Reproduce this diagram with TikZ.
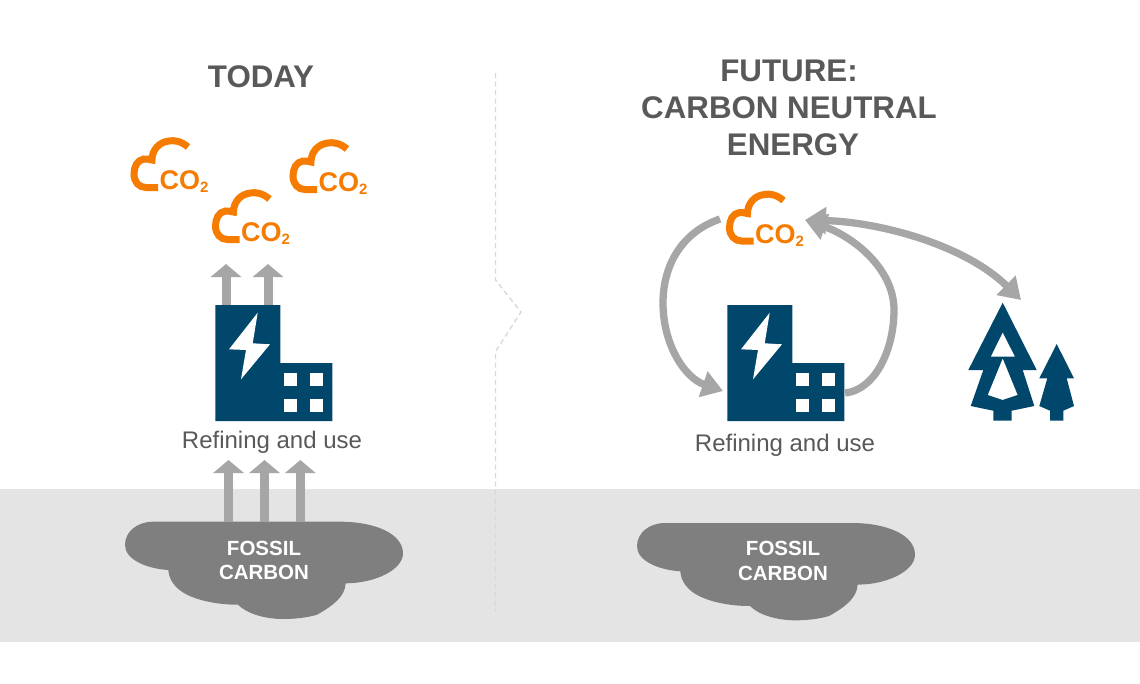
\documentclass[tikz,border=0pt]{standalone}
\usepackage{fontspec}
\setmainfont{Liberation Sans}
\usetikzlibrary{arrows.meta}
\definecolor{orangeCO}{HTML}{F57C00}
\definecolor{navy}{HTML}{00476B}
\definecolor{arrowgray}{HTML}{A6A6A6}
\definecolor{fossilgray}{HTML}{7F7F7F}
\definecolor{bandgray}{HTML}{E4E4E4}
\definecolor{textgray}{HTML}{595959}
\definecolor{dashgray}{HTML}{D9D9D9}
\newcommand{\fsz}[1]{\fontsize{#1}{#1}\selectfont}
\tikzset{
  x=1pt,y=-1pt,
  txt/.style={inner sep=0pt,outer sep=0pt,anchor=base,align=center},
  titletext/.style={txt,text=textgray,font=\fsz{31.3}\bfseries},
  labeltext/.style={txt,text=textgray,font=\fsz{24}},
  fossiltext/.style={txt,text=white,font=\fsz{20.5}\bfseries},
  flow/.style={draw=arrowgray,line width=9pt,-{Triangle[length=13pt,width=30pt]}},
  bend flow/.style={draw=arrowgray,line width=7.3pt,-{Triangle[length=21pt,width=26pt]}},
  bend flow both/.style={draw=arrowgray,line width=7.3pt,{Triangle[length=21pt,width=26pt]}-{Triangle[length=21pt,width=26pt]}},
  co2/.pic={
    \draw[orangeCO,line width=7pt,line join=miter]
      (57,8) .. controls (50,2) and (43,1) .. (38,2)
      .. controls (28,3) and (21,11) .. (21,21)
      .. controls (18,20) and (15,20) .. (13,20)
      .. controls (6,21) and (3,28) .. (3,35)
      .. controls (3,43) and (8,48.5) .. (15,48.5) -- (27,48.5);
    \node[inner sep=0pt,anchor=base west,text=orangeCO,font=\fsz{27}\bfseries] (-label) at (28.5,50.5)
      {CO{\fsz{15}\raisebox{-3pt}{2}}};
  },
  factory/.pic={
    \fill[navy] (0,0) -- (65,0) -- (65,58) -- (117,58) -- (117,116) -- (0,116) -- cycle;
    \fill[white] (42.4,7.7) -- (13.7,44.3) -- (30.7,45) -- (25.7,74.3) -- (54.7,39.3) -- (37.4,38.3) -- cycle;
    \fill[white] (68.4,68.3) rectangle ++(13,12.7);
    \fill[white] (94.4,68.3) rectangle ++(13,12.7);
    \fill[white] (68.4,94) rectangle ++(13,12.7);
    \fill[white] (94.4,94) rectangle ++(13,12.7);
  },
  fossil/.pic={
    \fill[fossilgray] (28,0) -- (215,0)
      .. controls (250,0) and (278,12) .. (278,31.7)
      .. controls (278,48) and (250,61.6) .. (220.7,61.6)
      .. controls (220,75) and (208,84) .. (192,93)
      .. controls (182,96) and (170,97.3) .. (158,97.3)
      .. controls (140,97.3) and (122,92) .. (113,83)
      .. controls (90,83) and (72,78) .. (62,73)
      .. controls (50,67) and (44,58) .. (43.3,48.3)
      .. controls (22,47) and (0,38) .. (0,23.3)
      .. controls (0,10) and (12,0) .. (28,0) -- cycle;
  },
}
\begin{document}
\begin{tikzpicture}
\useasboundingbox (0,0) rectangle (1140,683);
\fill[white] (0,0) rectangle (1140,683);
\fill[bandgray] (0,489) rectangle (1140,642);

% divider
\draw[dashgray,line width=1.4pt,dash pattern=on 5pt off 3.5pt]
  (495.5,73) -- (495.5,280) -- (521,312) -- (496.5,350) -- (495.5,352) -- (495.5,612);

% titles
\node[titletext] (today) at (261,87) {TODAY};
\node[titletext] (future1) at (789,81) {FUTURE:};
\node[titletext] (future2) at (789,118) {CARBON NEUTRAL};
\node[titletext] (future3) at (793,155.5) {ENERGY};

% LEFT side
\pic (fossilL) at (125,521.7) {fossil};
\pic (factoryL) at (215.3,305) {factory};
\pic (cloudA) at (131,139) {co2};
\pic (cloudB) at (290,141) {co2};
\pic (cloudC) at (212.5,191) {co2};

\coordinate (fl1) at (228.5,522); \coordinate (fl1t) at (228.5,460);
\coordinate (fl2) at (264.5,522); \coordinate (fl2t) at (264.5,460);
\coordinate (fl3) at (300.3,522); \coordinate (fl3t) at (300.3,460);
\coordinate (up1) at (226,305); \coordinate (up1t) at (226,264);
\coordinate (up2) at (268,305); \coordinate (up2t) at (268,264);
\draw[flow] (fl1) -- (fl1t);
\draw[flow] (fl2) -- (fl2t);
\draw[flow] (fl3) -- (fl3t);
\draw[flow] (up1) -- (up1t);
\draw[flow] (up2) -- (up2t);

\node[labeltext] (refL) at (272,448) {Refining and use};
\node[fossiltext] (fossilLa) at (264,555) {FOSSIL};
\node[fossiltext] (fossilLb) at (264,579) {CARBON};

% RIGHT side
\pic (fossilR) at (637,523) {fossil};
\pic (factoryR) at (727.3,305) {factory};
\pic (cloudD) at (726.5,192.5) {co2};

\node[labeltext] (refR) at (785,451) {Refining and use};
\node[fossiltext] (fossilRa) at (783,555) {FOSSIL};
\node[fossiltext] (fossilRb) at (783,580) {CARBON};

% trees
\fill[navy,even odd rule]
  (1002.7,302.7) -- (1036.7,370) -- (1022.7,370) -- (1034.3,406) -- (1011.7,410.7) -- (1011.7,420.7)
  -- (993.3,420.7) -- (993.3,410.7) -- (970.7,406) -- (983.3,370) -- (968.3,370) -- cycle
  (1002.7,332.3) -- (1015,356.7) -- (990.7,356.7) -- cycle
  (1002.7,358.3) -- (1017.7,395) -- (1002.7,400) -- (987.7,395) -- cycle;
\fill[navy]
  (1056.7,344) -- (1074,378.3) -- (1066.7,378.3) -- (1074,406) -- (1063.3,410.7) -- (1063.3,420.7)
  -- (1050,420.7) -- (1050,410.7) -- (1039.3,406) -- (1047.3,378.3) -- (1039.3,378.3) -- cycle;

% curved arrows
\coordinate (co2out) at (720,219);
\coordinate (factin) at (723,391);
\coordinate (factout) at (845,393);
\coordinate (co2in) at (805,220);
\coordinate (treeport) at (1021,300);
\coordinate (leftmid) at (663,303);
\coordinate (rightmid) at (894,310);
\draw[bend flow] (co2out) .. controls (682,232) and (663,265) .. (leftmid)
  .. controls (663,345) and (685,378) .. (factin);
\draw[bend flow] (factout) .. controls (875,390) and (894,350) .. (rightmid)
  .. controls (894,268) and (852,236) .. (co2in);
\draw[bend flow both] (co2in) .. controls (880,222) and (965,245) .. (treeport);
\end{tikzpicture}
\end{document}
